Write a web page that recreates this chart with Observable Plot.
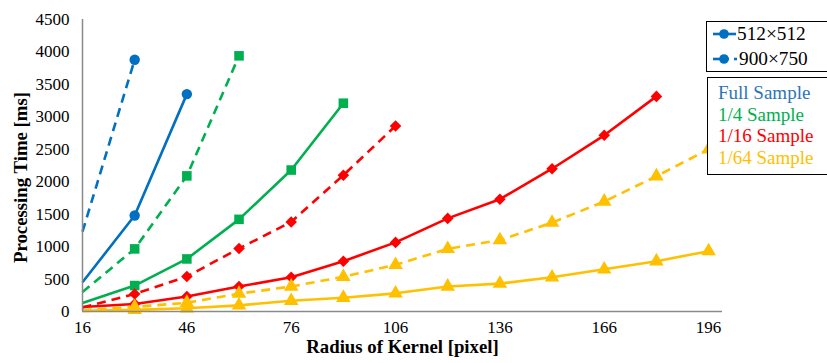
<!DOCTYPE html>
<html>
<head>
<meta charset="utf-8">
<script src="https://cdn.jsdelivr.net/npm/d3@7"></script>
<script src="https://cdn.jsdelivr.net/npm/@observablehq/plot@0.6"></script>
<style>
  html, body { margin: 0; padding: 0; background: #fff; overflow: hidden; }
  #wrap { position: relative; width: 827px; height: 363px; font-family: "Liberation Serif", "Times New Roman", serif; }
  .box { position: absolute; border: 1px solid #000; background: #fff; box-sizing: border-box; }
  .lt { position: absolute; line-height: 1; white-space: nowrap; }
</style>
</head>
<body>
<div id="wrap"></div>
<script>
// ---- data ----
const radius = [16, 31, 46, 61, 76, 91, 106, 121, 136, 151, 166, 181, 196];
const xTicks = [16, 46, 76, 106, 136, 166, 196];
const yTicks = [0, 500, 1000, 1500, 2000, 2500, 3000, 3500, 4000, 4500];

const full512 = [450, 1480, 3350];
const full900 = [1230, 3880];
const quarter512 = [130, 400, 810, 1420, 2180, 3210];
const quarter900 = [300, 965, 2090, 3940];
const sixteenth512 = [70, 115, 230, 385, 527, 775, 1065, 1435, 1730, 2200, 2715, 3315];
const sixteenth900 = [60, 270, 539, 970, 1380, 2100, 2860];
const sixtyfourth512 = [10, 25, 50, 95, 165, 213, 280, 385, 430, 527, 650, 775, 930];
const sixtyfourth900 = [20, 70, 135, 275, 385, 535, 720, 965, 1100, 1370, 1695, 2085, 2500];

const seriesNames = ["Full Sample", "1/4 Sample", "1/16 Sample", "1/64 Sample"];
const sizeNames = ["512×512", "900×750"];

// ---- styles ----
const colors = {"Full Sample": "#0070C0", "1/4 Sample": "#00B050", "1/16 Sample": "#FF0000", "1/64 Sample": "#FFC000"};
const legendColors = {"Full Sample": "#2E75B6", "1/4 Sample": "#00B050", "1/16 Sample": "#FF0000", "1/64 Sample": "#FFC000"};
const symbols = {"Full Sample": "circle", "1/4 Sample": "square", "1/16 Sample": "diamond2", "1/64 Sample": "triangle"};
const symR = {"Full Sample": 5.2, "1/4 Sample": 5.4, "1/16 Sample": 5.2, "1/64 Sample": 5.4};

const seriesList = [
  {name: "Full Sample", size: "512×512", values: full512},
  {name: "Full Sample", size: "900×750", values: full900},
  {name: "1/4 Sample", size: "512×512", values: quarter512},
  {name: "1/4 Sample", size: "900×750", values: quarter900},
  {name: "1/16 Sample", size: "512×512", values: sixteenth512},
  {name: "1/16 Sample", size: "900×750", values: sixteenth900},
  {name: "1/64 Sample", size: "512×512", values: sixtyfourth512},
  {name: "1/64 Sample", size: "900×750", values: sixtyfourth900}
];

const marks = [];
for (const s of seriesList) {
  const rows = s.values.map((v, i) => ({x: radius[i], y: v}));
  marks.push(Plot.line(rows, {
    x: "x", y: "y",
    stroke: colors[s.name],
    strokeWidth: 2.6,
    strokeDasharray: s.size === "900×750" ? "9,6" : null,
    strokeLinecap: "butt"
  }));
  marks.push(Plot.dot(rows.filter(d => d.x > radius[0]), {
    x: "x", y: "y",
    symbol: () => symbols[s.name],
    r: symR[s.name],
    fill: colors[s.name],
    stroke: "none"
  }));
}

const FONT = "'Liberation Serif', 'Times New Roman', serif";
const plot = Plot.plot({
  width: 827,
  height: 363,
  marginLeft: 82,
  marginRight: 105,
  marginTop: 19,
  marginBottom: 52,
  style: {fontFamily: FONT, fontSize: "17px", color: "#000", background: "#fff"},
  x: {domain: [16, 200]},
  y: {domain: [0, 4500]},
  symbol: {type: "identity"},
  marks: [
    Plot.axisX({ticks: xTicks, tickSize: 0, tickPadding: 9, label: null, fontSize: 17, tickFormat: d => String(d)}),
    Plot.axisY({ticks: yTicks, tickSize: 0, tickPadding: 13, label: null, fontSize: 17, tickFormat: d => String(d)}),
    ...marks,
    Plot.ruleX([16], {stroke: "#8a8a8a", strokeWidth: 1.5}),
    Plot.ruleY([0], {stroke: "#8a8a8a", strokeWidth: 1.5}),
    Plot.text(["Radius of Kernel [pixel]"], {frameAnchor: "bottom", textAnchor: "middle", dy: 41, fontWeight: "bold", fontSize: 18.8, fill: "#000"}),
    Plot.text(["Processing Time [ms]"], {frameAnchor: "left", textAnchor: "middle", dx: -62, dy: 12, rotate: -90, fontWeight: "bold", fontSize: 18.8, fill: "#000"})
  ]
});

const wrap = document.getElementById("wrap");
wrap.appendChild(plot);

// ---- legends ----
const box1 = document.createElement("div");
box1.className = "box";
Object.assign(box1.style, {left: "706px", top: "21px", width: "130px", height: "51px"});
wrap.appendChild(box1);
const ns = "http://www.w3.org/2000/svg";
const lsvg = document.createElementNS(ns, "svg");
lsvg.setAttribute("width", "40"); lsvg.setAttribute("height", "51");
Object.assign(lsvg.style, {position: "absolute", left: "0px", top: "0px"});
sizeNames.forEach((nm, i) => {
  const cy = 12 + i * 25;
  const blue = colors["Full Sample"];
  if (i === 0) {
    const l = document.createElementNS(ns, "line");
    l.setAttribute("x1", 6); l.setAttribute("x2", 29); l.setAttribute("y1", cy); l.setAttribute("y2", cy);
    l.setAttribute("stroke", blue); l.setAttribute("stroke-width", 2.6);
    lsvg.appendChild(l);
  } else {
    const l = document.createElementNS(ns, "line");
    l.setAttribute("x1", 6); l.setAttribute("x2", 22); l.setAttribute("y1", cy); l.setAttribute("y2", cy);
    l.setAttribute("stroke", blue); l.setAttribute("stroke-width", 2.6);
    lsvg.appendChild(l);
    const l2 = document.createElementNS(ns, "line");
    l2.setAttribute("x1", 27); l2.setAttribute("x2", 30); l2.setAttribute("y1", cy); l2.setAttribute("y2", cy);
    l2.setAttribute("stroke", blue); l2.setAttribute("stroke-width", 2.6);
    lsvg.appendChild(l2);
  }
  const c = document.createElementNS(ns, "circle");
  c.setAttribute("cx", 17); c.setAttribute("cy", cy); c.setAttribute("r", 4.8); c.setAttribute("fill", blue);
  lsvg.appendChild(c);
  const t = document.createElement("div");
  t.className = "lt";
  t.textContent = nm;
  Object.assign(t.style, {left: (i === 0 ? 30 : 32) + "px", top: (cy - 10) + "px", fontSize: "19.3px", color: "#000"});
  box1.appendChild(t);
});
box1.appendChild(lsvg);

const box2 = document.createElement("div");
box2.className = "box";
Object.assign(box2.style, {left: "707px", top: "77px", width: "130px", height: "98px"});
wrap.appendChild(box2);
seriesNames.forEach((nm, i) => {
  const t = document.createElement("div");
  t.className = "lt";
  t.textContent = nm;
  Object.assign(t.style, {left: "10px", top: (5 + i * 21.7) + "px", color: legendColors[nm], fontSize: "19px"});
  box2.appendChild(t);
});
</script>
</body>
</html>
